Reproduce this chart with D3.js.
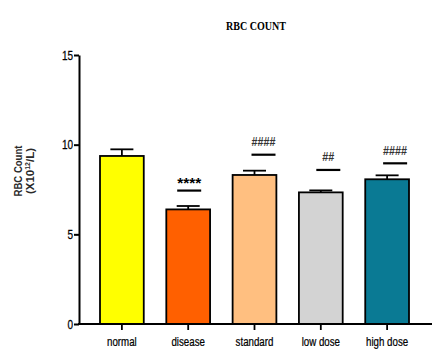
<!DOCTYPE html>
<html>
<head>
<meta charset="utf-8">
<script src="https://cdn.jsdelivr.net/npm/d3@7"></script>
<style>
  html, body { margin: 0; padding: 0; background: #fff; }
  svg { display: block; }
</style>
</head>
<body>
<svg id="chart" width="432" height="350"></svg>
<script>
// Groups and their mean RBC counts (x10^12/L) with SEM
const groups   = ["normal", "disease", "standard", "low dose", "high dose"];
const means    = [9.37, 6.39, 8.31, 7.34, 8.07];
const errors   = [0.37, 0.19, 0.24, 0.11, 0.22];
const colors   = ["#FFFF00", "#FF6000", "#FFBF80", "#D3D3D3", "#0A7A94"];
// Significance markers and the level their bar sits at
const sigText  = ["", "****", "####", "##", "####"];
const sigLevel = [null, 7.44, 9.44, 8.59, 8.96];
const sigShift = [0, 1, 9, 7.5, 8];
const yTicks   = [0, 5, 10, 15];

const svg = d3.select("#chart");
const plotLeft = 79, plotRight = 432, plotTop = 55, plotBottom = 324;
const sans = "'Liberation Sans', Arial, sans-serif";
const squeezeX = 0.72; // horizontal condensing of the category labels
const squeezeY = 0.8;  // and of the value labels

const x = d3.scaleBand().domain(groups).range([100, 409]).paddingInner(0.34).paddingOuter(0);
const y = d3.scaleLinear().domain([0, 15]).range([plotBottom, plotTop]);

// Title
svg.append("text")
  .attr("x", 256).attr("y", 30)
  .attr("text-anchor", "middle")
  .attr("font-family", "'Liberation Serif', 'Times New Roman', serif")
  .attr("font-weight", "bold")
  .attr("font-size", 12.5)
  .attr("textLength", 60)
  .attr("lengthAdjust", "spacingAndGlyphs")
  .text("RBC COUNT");

// Bars
const bw = x.bandwidth();
svg.selectAll("rect.bar").data(groups).join("rect")
  .attr("class", "bar")
  .attr("x", d => x(d))
  .attr("y", (d, i) => y(means[i]))
  .attr("width", bw)
  .attr("height", (d, i) => y(0) - y(means[i]))
  .attr("fill", (d, i) => colors[i])
  .attr("stroke", "#000")
  .attr("stroke-width", 1.8);

// Error bars (upper only)
const eg = svg.append("g").attr("stroke", "#000").attr("stroke-width", 1.8);
groups.forEach((g, i) => {
  const cx = x(g) + bw / 2;
  const ty = y(means[i] + errors[i]);
  eg.append("line").attr("x1", cx).attr("x2", cx).attr("y1", y(means[i])).attr("y2", ty);
  eg.append("line").attr("x1", cx - 11.5).attr("x2", cx + 11.5).attr("y1", ty).attr("y2", ty);
});

// Significance lines and symbols
groups.forEach((g, i) => {
  if (!sigText[i]) return;
  const cx = x(g) + bw / 2 + sigShift[i];
  const ly = y(sigLevel[i]);
  const star = sigText[i].startsWith("*");
  svg.append("line")
    .attr("x1", cx - 12).attr("x2", cx + 12)
    .attr("y1", ly).attr("y2", ly)
    .attr("stroke", "#000").attr("stroke-width", 2.2);
  svg.append("text")
    .attr("x", cx).attr("y", star ? ly - 2.5 : ly - 8.5)
    .attr("text-anchor", "middle")
    .attr("font-family", sans)
    .attr("font-size", star ? 15 : 12)
    .attr("font-weight", "bold")
    .attr("fill", star ? "#000" : "#333")
    .attr("textLength", sigText[i].length * 6)
    .attr("lengthAdjust", "spacingAndGlyphs")
    .text(sigText[i]);
});

// Y axis
const yAxis = svg.append("g")
  .attr("transform", `translate(${plotLeft},0)`)
  .call(d3.axisLeft(y).tickValues(yTicks).tickSize(5).tickPadding(1).tickSizeOuter(0));
yAxis.select(".domain").attr("stroke-width", 2);
yAxis.selectAll(".tick line").attr("stroke-width", 2);
yAxis.selectAll("text")
  .attr("font-family", sans)
  .attr("font-size", 12.5)
  .attr("fill", "#000")
  .attr("stroke", "#000").attr("stroke-width", 0.25)
  .attr("x", -6 / squeezeY)
  .attr("transform", `scale(${squeezeY},1)`);

// X axis
const xAxis = svg.append("g")
  .attr("transform", `translate(0,${plotBottom})`)
  .call(d3.axisBottom(x).tickSize(6).tickPadding(6).tickSizeOuter(0));
xAxis.select(".domain").attr("d", `M${plotLeft - 1},0H${plotRight}`).attr("stroke-width", 2);
xAxis.selectAll(".tick line").attr("stroke-width", 1.8);
xAxis.selectAll("text")
  .attr("font-family", sans)
  .attr("font-size", 13.5)
  .attr("fill", "#000")
  .attr("stroke", "#000").attr("stroke-width", 0.25)
  .attr("transform", `scale(${squeezeX},1)`);

// Y axis title
const yt = svg.append("text")
  .attr("transform", "translate(22,171) rotate(-90)")
  .attr("text-anchor", "middle")
  .attr("font-family", sans)
  .attr("font-weight", "bold")
  .attr("font-size", 11.5)
  .attr("fill", "#2a2a2a");
yt.append("tspan").attr("x", 0).attr("dy", 0)
  .attr("textLength", 51).attr("lengthAdjust", "spacingAndGlyphs")
  .text("RBC Count");
const l2 = yt.append("tspan").attr("x", 0).attr("dy", 11.5);
l2.append("tspan").text("(X10");
l2.append("tspan").attr("font-size", 7).attr("dy", -4).text("12");
l2.append("tspan").attr("dy", 4).text("/L)");
</script>
</body>
</html>
